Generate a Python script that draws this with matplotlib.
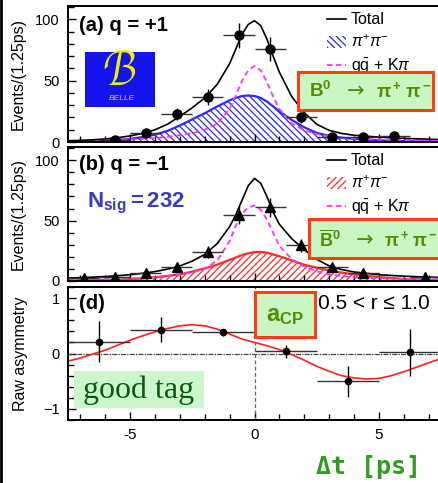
import matplotlib
matplotlib.use('Agg')
import matplotlib.pyplot as plt
from matplotlib.lines import Line2D
from matplotlib.patches import Patch, Rectangle
from matplotlib.ticker import MultipleLocator

W, H = 438, 483
plt.rcParams['font.family'] = ['Liberation Sans', 'DejaVu Sans']
plt.rcParams['hatch.linewidth'] = 0.9
plt.rcParams['mathtext.fontset'] = 'custom'
plt.rcParams['mathtext.rm'] = 'Liberation Sans'
plt.rcParams['mathtext.it'] = 'Liberation Sans:italic'
plt.rcParams['mathtext.bf'] = 'Liberation Sans:bold'

# ---------------- data ----------------
# panel (a) q=+1 data points
a_x = [-5.625, -4.375, -3.125, -1.875, -0.625, 0.625, 1.875, 3.125, 4.375, 5.625]
a_y = [1.6, 7.4, 23, 37, 87, 76, 20, 4, 4, 4.5]
a_yerr = [1.5, 2.8, 5, 6.5, 10, 9.5, 4.5, 2.2, 2.2, 2.2]
# panel (b) q=-1 data points
b_x = [-6.875, -5.625, -4.375, -3.125, -1.875, -0.625, 0.625, 1.875, 3.125, 4.375, 6.875]
b_y = [2.5, 3.5, 6.5, 11.5, 24, 55, 61, 29.5, 11.5, 6.5, 3]
b_yerr = [1.6, 1.9, 2.6, 3.5, 5, 7.5, 8, 5.5, 3.5, 2.6, 1.7]
bin_half = 0.625

# fit curves
cx = [-7.5, -7, -6.5, -6, -5.5, -5, -4.5, -4, -3.5, -3, -2.5, -2, -1.5, -1, -0.75, -0.5,
      -0.25, 0, 0.25, 0.5, 0.75, 1, 1.5, 2, 2.5, 3, 3.5, 4, 5, 6, 7, 7.5]
a_total = [1, 1.3, 1.8, 2.5, 3.5, 5, 7, 10, 14.5, 21, 28, 36, 47, 64, 76, 88,
           96, 99, 95, 84, 70, 57, 37, 24, 14.5, 9.5, 7, 5.5, 4, 3, 2.3, 2]
a_sig = [0.3, 0.5, 0.8, 1.1, 1.7, 2.5, 4, 6, 9, 13.5, 18.5, 23.5, 29, 34, 36, 37.5,
         38, 37.5, 36, 33, 29, 25, 18, 12, 7.5, 5, 3.5, 2.5, 1.3, 0.7, 0.4, 0.3]
a_bkg = [1, 1.1, 1.3, 1.5, 1.8, 2.1, 2.6, 3.2, 4.2, 5.5, 7.2, 10, 15, 27, 38, 50,
         58.5, 62, 58.5, 49, 37, 27, 15, 9.5, 6.5, 4.5, 3.5, 2.8, 2, 1.6, 1.3, 1.2]
b_total = [2.5, 2.8, 3.2, 3.7, 4.4, 5.2, 6.4, 7.8, 9.8, 12.5, 16.5, 22, 31, 45, 55, 67,
           79, 85, 81, 70, 57, 47, 35, 26, 18, 12.5, 9.5, 7.5, 5.2, 4, 3.2, 2.9]
b_sig = [0.3, 0.4, 0.6, 0.8, 1.1, 1.5, 2.2, 3, 4.2, 5.5, 7.8, 10.5, 13.5, 17.5, 19.5, 21.5,
         23, 24, 24, 23.5, 22, 20.5, 17, 13.5, 11, 8.8, 7, 5.5, 3.2, 1.7, 0.9, 0.6]
b_bkg = [1, 1.1, 1.3, 1.5, 1.8, 2.1, 2.6, 3.2, 4.2, 5.5, 7.2, 10, 17, 33, 46, 56,
         61, 62.5, 59, 51, 40, 29, 18, 12, 8, 5.5, 4, 3, 2.2, 1.7, 1.4, 1.3]

# panel (d) raw asymmetry
d_x = [-6.25, -3.75, -1.25, 1.25, 3.75, 6.25]
d_y = [0.21, 0.43, 0.38, 0.04, -0.50, 0.02]
d_yerr = [0.37, 0.23, 0.06, 0.12, 0.28, 0.42]
d_half = 1.25
asym_x = [-7.5, -7, -6.5, -6, -5.5, -5, -4.5, -4, -3.5, -3, -2.5, -2, -1.5, -1, -0.5, 0,
          0.5, 1, 1.5, 2, 2.5, 3, 3.5, 4, 4.5, 5, 5.5, 6, 6.5, 7, 7.5]
asym_y = [-0.14, -0.08, -0.01, 0.06, 0.15, 0.24, 0.32, 0.39, 0.45, 0.50, 0.52, 0.50, 0.44,
          0.35, 0.26, 0.20, 0.14, 0.07, -0.02, -0.12, -0.23, -0.32, -0.40, -0.44, -0.46,
          -0.45, -0.40, -0.33, -0.25, -0.17, -0.09]

# ---------------- figure ----------------
fig = plt.figure(figsize=(W / 100, H / 100), dpi=100)


def fx(px):
    return px / W


def fy(py):
    return 1 - py / H


def axes_px(left, top, right, bottom):
    return fig.add_axes([fx(left), fy(bottom), (right - left) / W, (bottom - top) / H])


axA = axes_px(68, 6, 441, 142)
axB = axes_px(68, 147, 441, 281)
axD = axes_px(68, 287, 441, 420)

for ax in (axA, axB, axD):
    ax.set_xlim(-7.5, 7.5)
    ax.xaxis.set_major_locator(MultipleLocator(5))
    ax.xaxis.set_minor_locator(MultipleLocator(1))
    ax.tick_params(which='both', direction='in', top=False, right=False, width=1.0)
    ax.tick_params(which='major', length=6, labelsize=11, pad=6)
    ax.tick_params(which='minor', length=4)
    for s in ax.spines.values():
        s.set_linewidth(1.4)

for ax in (axA, axB):
    ax.set_ylim(0, 111)
    ax.yaxis.set_major_locator(MultipleLocator(50))
    ax.yaxis.set_minor_locator(MultipleLocator(10))
    ax.tick_params(axis='x', labelbottom=False)
    ax.tick_params(axis='y', labelsize=10.5)
    ax.set_ylabel('Events/(1.25ps)', fontsize=11.5)
    ax.yaxis.set_label_coords(-0.112, 0.5)

axD.set_ylim(-1.2, 1.2)
axD.yaxis.set_major_locator(MultipleLocator(1))
axD.yaxis.set_minor_locator(MultipleLocator(0.2))
axD.tick_params(axis='y', labelsize=10.5)
axD.set_ylabel('Raw asymmetry', fontsize=11.5)
axD.yaxis.set_label_coords(-0.108, 0.5)
axD.set_xticks([-5, 0, 5])
axD.set_xticklabels(['-5', '0', '5'])

blue = '#2a2aff'
red = '#ff2a2a'
mag = '#ff33ff'


def draw_panel(ax, sig, bkg, tot, col, hatch, px, py, pyerr, marker):
    ax.fill_between(cx, 0, sig, facecolor='none', edgecolor=col, hatch=hatch, lw=0)
    ax.plot(cx, sig, color=col, lw=1.6)
    ax.plot(cx, bkg, color=mag, lw=1.3, ls=(0, (3, 2)))
    ax.plot(cx, tot, color='black', lw=1.2)
    ax.errorbar(px, py, xerr=bin_half, fmt='none', ecolor='#333333', elinewidth=1.0)
    ax.errorbar(px, py, yerr=pyerr, fmt=marker, color='black', ms=6.5,
                ecolor='black', elinewidth=1.0)


draw_panel(axA, a_sig, a_bkg, a_total, blue, '\\\\\\\\\\', a_x, a_y, a_yerr, 'o')
draw_panel(axB, b_sig, b_bkg, b_total, red, '/////', b_x, b_y, b_yerr, '^')

# legends
for ax, col, hatch in ((axA, blue, '\\\\\\\\\\'), (axB, red, '/////')):
    handles = [Line2D([], [], color='black', lw=1.2),
               Patch(facecolor='none', edgecolor=col, hatch=hatch, lw=0),
               Line2D([], [], color=mag, lw=1.3, ls=(0, (3, 2)))]
    labels = ['Total', r'$\pi^{+}\pi^{-}$', r'q$\bar{\mathrm{q}}$ + K$\pi$']
    ax.legend(handles, labels, loc='upper left', bbox_to_anchor=(0.677, 1.0),
              frameon=False, fontsize=11.5, handlelength=1.2, handleheight=0.8,
              handletextpad=0.3, labelspacing=0.4, borderaxespad=0)

axA.text(0.03, 0.93, '(a) q = +1', transform=axA.transAxes, fontsize=14.5,
         fontweight='bold', va='top', ha='left')
axB.text(0.03, 0.94, '(b) q = \u22121', transform=axB.transAxes, fontsize=14.5,
         fontweight='bold', va='top', ha='left')
axD.text(0.03, 0.95, '(d)', transform=axD.transAxes, fontsize=14.5,
         fontweight='bold', va='top', ha='left')
axD.text(0.97, 0.95, '0.5 < r \u2264 1.0', transform=axD.transAxes, fontsize=15,
         va='top', ha='right')

# panel (d)
axD.axhline(0, color='#444444', lw=0.9, ls=(0, (4, 1, 1, 1)))
axD.axvline(0, color='#666666', lw=0.9, ls=(0, (3, 2)))
axD.plot(asym_x, asym_y, color='#ff2020', lw=1.2)
axD.errorbar(d_x, d_y, xerr=d_half, fmt='none', ecolor='#333333', elinewidth=1.0)
axD.errorbar(d_x, d_y, yerr=d_yerr, fmt='o', color='black', ms=4.5, ecolor='black',
             elinewidth=1.0)

# ---------------- decorations ----------------
boxgreen = '#ccf5c4'
boxedge = '#ff3d14'
txtgreen = '#4f8f00'


def box(l, t, r, b, fc, ec=None, lw=0):
    rect = Rectangle((fx(l), fy(b)), (r - l) / W, (b - t) / H, transform=fig.transFigure,
                     facecolor=fc, edgecolor=ec if ec else 'none', lw=lw, zorder=5)
    fig.add_artist(rect)


def decay_text(x_b, x_arrow, x_pi, y, b_label, size=13.5):
    fig.text(fx(x_b), fy(y), b_label, color=txtgreen, fontsize=size,
             ha='left', va='center', zorder=6)
    fig.text(fx(x_arrow), fy(y), '\u2192', color=txtgreen, fontsize=15,
             family='DejaVu Sans', ha='center', va='center', zorder=6)
    fig.text(fx(x_pi), fy(y), r'$\mathbf{\pi^+\,\pi^-}$', color=txtgreen, fontsize=size,
             ha='left', va='center', zorder=6)


box(298, 72, 433, 110, boxgreen, boxedge, 2.2)
decay_text(309, 356, 376, 91, r'$\mathbf{B^0}$')
box(309, 219, 450, 258, boxgreen, boxedge, 2.2)
decay_text(319, 365, 384, 240, r'$\mathbf{\overline{B}^0}$', size=13)
box(255, 292, 315, 337, boxgreen, boxedge, 2.2)
fig.text(fx(285), fy(316), r'$\mathbf{a_{CP}}$', color=txtgreen, fontsize=17,
         ha='center', va='center', zorder=6)

fig.text(fx(87), fy(203), r'$\mathbf{N_{sig}}$$\mathbf{=232}$', color='#3a3ac8',
         fontsize=16, ha='left', va='center', family='DejaVu Sans', fontweight='bold')

box(74, 371, 204, 408, '#ccf7cc')
fig.text(fx(139), fy(390), 'good tag', family='Liberation Serif', fontsize=23,
         color='#0a5c14', ha='center', va='center', zorder=6)

# BELLE logo
box(85, 52, 155, 107, '#1414f0')
fig.text(fx(120), fy(73), r'$\mathcal{B}$', color='#f0f000', fontsize=34,
         ha='center', va='center', zorder=6)
fig.text(fx(122), fy(99), 'BELLE', color='#c8c850', fontsize=6, style='italic',
         ha='center', va='center', zorder=6)

fig.text(fx(368), fy(467), '\u0394t [ps]', family='DejaVu Sans Mono', fontweight='bold',
         fontsize=18, color='#2e9e1e', ha='center', va='center')

fig.add_artist(Line2D([fx(1.2), fx(1.2)], [0, 1], color='black', lw=2.0,
                      transform=fig.transFigure))

fig.savefig('out.png', dpi=100)
